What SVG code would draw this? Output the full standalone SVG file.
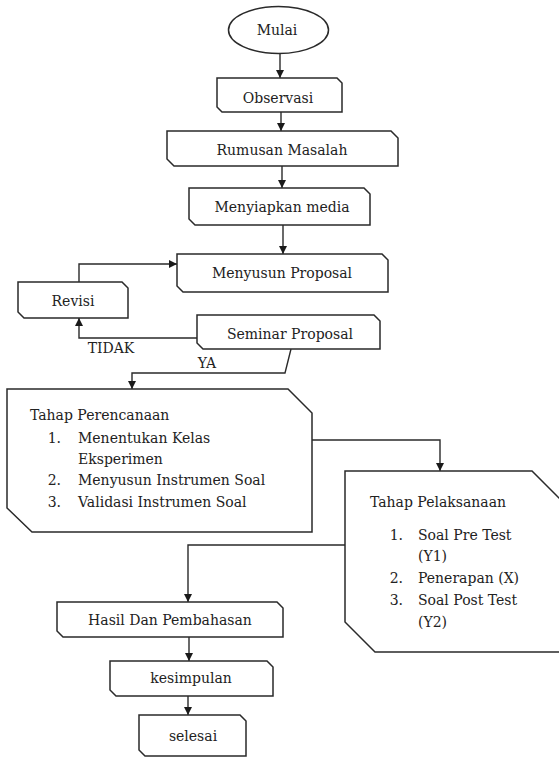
<svg xmlns="http://www.w3.org/2000/svg" width="559" height="758" viewBox="0 0 559 758">
<style>
  .box { fill: #ffffff; stroke: #2a2a2a; stroke-width: 1.5; }
  .lbl { font-family: "DejaVu Serif", "Liberation Serif", serif; font-size: 14px; fill: #222222; }
  .mid { text-anchor: middle; }
  .end { text-anchor: end; }
  .con { fill: none; stroke: #2a2a2a; stroke-width: 1.4; }
</style>
<defs>
  <marker id="arr" markerUnits="userSpaceOnUse" markerWidth="8" markerHeight="8" refX="8" refY="4" orient="auto">
    <path d="M0,0 L8,4 L0,8 z" fill="#1a1a1a"/>
  </marker>
</defs>
<rect width="559" height="758" fill="#ffffff"/>

<g id="connectors">
  <path class="con" d="M280,54 V78" marker-end="url(#arr)"/>
  <path class="con" d="M281,112 V131" marker-end="url(#arr)"/>
  <path class="con" d="M282,166 V188" marker-end="url(#arr)"/>
  <path class="con" d="M283,225 V254" marker-end="url(#arr)"/>
  <path class="con" d="M79,282 V264 H177" marker-end="url(#arr)"/>
  <path class="con" d="M197,338 H79 V318" marker-end="url(#arr)"/>
  <path class="con" d="M291,349 L285,373 H132 V389" marker-end="url(#arr)"/>
  <path class="con" d="M312,440 H440 V471" marker-end="url(#arr)"/>
  <path class="con" d="M345,545 H188 V602" marker-end="url(#arr)"/>
  <path class="con" d="M189,637 V661" marker-end="url(#arr)"/>
  <path class="con" d="M188,696 V715" marker-end="url(#arr)"/>
  <text class="lbl mid" x="111" y="353">TIDAK</text>
  <text class="lbl mid" x="207" y="368">YA</text>
</g>

<g id="mulai">
  <ellipse class="box" cx="278.5" cy="30" rx="50" ry="23.5"/>
  <text class="lbl mid" x="277" y="35">Mulai</text>
</g>

<g id="observasi">
  <polygon class="box" points="217,78 337,78 342,83 342,112 222,112 217,107"/>
  <text class="lbl mid" x="278" y="103">Observasi</text>
</g>

<g id="rumusan">
  <polygon class="box" points="167,131 391,131 398,138 398,166 174,166 167,159"/>
  <text class="lbl mid" x="282" y="155">Rumusan Masalah</text>
</g>

<g id="menyiapkan">
  <polygon class="box" points="189,188 364,188 370,194 370,225 195,225 189,219"/>
  <text class="lbl mid" x="282" y="212">Menyiapkan media</text>
</g>

<g id="menyusun">
  <polygon class="box" points="177,254 382,254 388,260 388,292 183,292 177,286"/>
  <text class="lbl mid" x="282" y="278">Menyusun Proposal</text>
</g>

<g id="revisi">
  <polygon class="box" points="18,282 122,282 128,288 128,318 24,318 18,312"/>
  <text class="lbl mid" x="73" y="306">Revisi</text>
</g>

<g id="seminar">
  <polygon class="box" points="197,315 374,315 380,321 380,349 203,349 197,343"/>
  <text class="lbl mid" x="290" y="339">Seminar Proposal</text>
</g>

<g id="perencanaan">
  <polygon class="box" points="7,389 288,389 312,413 312,532 32,532 7,508"/>
  <text class="lbl" x="30" y="420">Tahap Perencanaan</text>
  <text class="lbl end" x="61" y="443">1.</text>
  <text class="lbl" x="78" y="443">Menentukan  Kelas</text>
  <text class="lbl" x="78" y="464">Eksperimen</text>
  <text class="lbl end" x="61" y="485">2.</text>
  <text class="lbl" x="78" y="485">Menyusun Instrumen Soal</text>
  <text class="lbl end" x="61" y="507">3.</text>
  <text class="lbl" x="78" y="507">Validasi Instrumen Soal</text>
</g>

<g id="pelaksanaan">
  <polygon class="box" points="345,471 532,471 561,500 561,652 375,652 345,622"/>
  <text class="lbl" x="370" y="507">Tahap Pelaksanaan</text>
  <text class="lbl end" x="403" y="540">1.</text>
  <text class="lbl" x="418" y="540">Soal Pre Test</text>
  <text class="lbl" x="418" y="561">(Y1)</text>
  <text class="lbl end" x="403" y="583">2.</text>
  <text class="lbl" x="418" y="583">Penerapan (X)</text>
  <text class="lbl end" x="403" y="605">3.</text>
  <text class="lbl" x="418" y="605">Soal Post Test</text>
  <text class="lbl" x="418" y="627">(Y2)</text>
</g>

<g id="hasil">
  <polygon class="box" points="57,602 277,602 283,608 283,637 63,637 57,631"/>
  <text class="lbl mid" x="170" y="625">Hasil Dan Pembahasan</text>
</g>

<g id="kesimpulan">
  <polygon class="box" points="110,661 267,661 273,667 273,696 116,696 110,690"/>
  <text class="lbl mid" x="191" y="683">kesimpulan</text>
</g>

<g id="selesai">
  <polygon class="box" points="139,715 240,715 246,721 246,756 145,756 139,750"/>
  <text class="lbl mid" x="193" y="741">selesai</text>
</g>
</svg>
